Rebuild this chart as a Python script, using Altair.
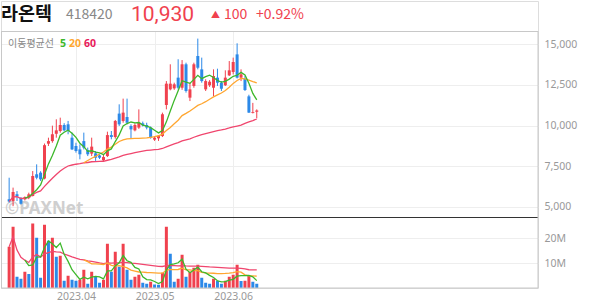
import altair as alt
import numpy as np
import pandas as pd

# ---------------- data ----------------
stock_name = "라온텍"
stock_code = "418420"
last_price = 10930
price_change = 100
change_pct = 0.92

opens = [5470, 5370, 5780, 5560, 5470, 5570, 5680, 7010, 7110, 6750,
         8890, 9050, 9500, 9670, 10040, 10080, 9260, 8750, 8540, 9050,
         8500, 8280, 8300, 8170, 7870, 8130, 9420, 9300, 10740, 10290,
         10530, 9980, 9710, 9880, 10140, 10040, 9880, 9140, 9220, 9360,
         11270, 12230, 12290, 12950, 12330, 13770, 11720, 12440, 14280, 13460,
         12230, 12480, 12330, 12950, 12640, 12480, 13090, 13300, 14380, 12950,
         12890, 11800, 10780, 10850]
highs = [6800, 6190, 5980, 5600, 5650, 5880, 7210, 7620, 7200, 8900,
         9260, 10000, 10390, 10490, 10150, 10290, 9570, 8950, 8850, 9570,
         8650, 9260, 8440, 8250, 8200, 9630, 9670, 10350, 11310, 11660,
         11660, 10080, 10150, 11000, 10250, 10180, 9950, 9360, 9420, 10800,
         12740, 13770, 12640, 14080, 14030, 13870, 12640, 13870, 15350, 14180,
         12850, 12800, 13460, 13500, 12740, 13400, 13970, 14180, 15060, 13460,
         13050, 11900, 11400, 11000]
lows = [5270, 5050, 5370, 5150, 5400, 5480, 5650, 6700, 6600, 6700,
        8750, 8950, 9260, 9570, 9650, 9470, 8500, 8340, 7930, 8540,
        8130, 8130, 7830, 7950, 7780, 8070, 9160, 9200, 9980, 10180,
        10080, 9220, 9650, 9800, 9950, 9770, 9200, 9060, 9060, 9300,
        11000, 12170, 12200, 12230, 12200, 12030, 11510, 12330, 13460, 12640,
        12130, 12380, 11820, 12440, 12130, 12440, 13050, 13150, 12900, 12740,
        12130, 10780, 10750, 10450]
closes = [5330, 5920, 5640, 5200, 5610, 5780, 6900, 6800, 6700, 8800,
          9050, 9470, 9710, 10040, 9710, 9670, 8540, 8440, 8240, 8650,
          8240, 8710, 8030, 8030, 8070, 9420, 9300, 10290, 10080, 10800,
          10180, 9770, 10040, 10180, 10020, 9880, 9260, 9260, 9360, 10700,
          12580, 12580, 12540, 12330, 13770, 12130, 12230, 13770, 13560, 12740,
          12740, 12700, 13050, 12640, 12270, 12950, 13400, 13910, 12950, 13150,
          12190, 10800, 10830, 10930]
volumes_m = [16.5, 24.5, 4.5, 3.7, 6.5, 5.6, 25.8, 20.1, 4.1, 25.3,
             18.9, 20.1, 12.5, 12.9, 2.9, 4.9, 3.3, 2.9, 3.3, 7.3,
             1.7, 6.5, 4.5, 2.1, 3.3, 17.7, 6.5, 14.5, 8.5, 17.7,
             7.3, 3.3, 4.5, 5.3, 2.1, 1.7, 2.5, 1.4, 1.3, 6.1,
             24.5, 13.7, 2.5, 3.7, 13.3, 4.5, 6.5, 8.1, 9.3, 4.1,
             2.1, 1.7, 3.7, 2.9, 1.7, 2.9, 4.5, 5.3, 9.3, 2.8,
             2.9, 4.9, 2.5, 1.7]

month_ticks = [17, 37, 57]
month_labels = ["2023.04", "2023.05", "2023.06"]
price_ticks = [5000, 7500, 10000, 12500, 15000]
volume_ticks = [10_000_000, 20_000_000]

# ---------------- styling ----------------
RED = "#f0414e"
BLUE = "#2c89e8"
C5 = "#3cb82a"
C20 = "#ffa630"
C60 = "#f0466e"
GRID = "#eeeeee"
BORDER = "#c8c8c8"
KFONT = "Noto Sans CJK KR"
W = 537
HEAD_H = 30
PRICE_H = 186
VOL_H = 71

df = pd.DataFrame({
    "i": np.arange(len(closes)),
    "open": opens, "high": highs, "low": lows, "close": closes,
    "vol": np.array(volumes_m) * 1e6,
})
df["dir"] = np.where(df["close"] >= df["open"], "up", "down")
prev = df["vol"].shift(1)
df["vdir"] = np.where(prev.isna() | (df["vol"] > prev), "up", "down")

one = alt.Data(values=[{}])

xscale = alt.Scale(domain=[-0.8, 133.28], nice=False, zero=False)
label_expr = "".join(f"datum.value == {t} ? '{l}' : " for t, l in zip(month_ticks, month_labels)) + "''"


def X(show_labels):
    return alt.X("i:Q", scale=xscale, title=None,
                 axis=alt.Axis(values=month_ticks, labels=show_labels, labelExpr=label_expr,
                               ticks=False, domain=False, grid=True, gridColor=GRID,
                               labelColor="#999999", labelFontSize=10.5, labelPadding=3,
                               labelFont="Noto Sans"))


pscale = alt.Scale(domain=[4385, 15817], nice=False, zero=False)
paxis = alt.Axis(orient="right", values=price_ticks, format=",d", ticks=False, domain=False,
                 grid=True, gridColor=GRID, labelColor="#999999", labelFontSize=10.5,
                 labelPadding=6, labelFont="Noto Sans")


def PY(field):
    return alt.Y(f"{field}:Q", scale=pscale, axis=paxis, title=None)


vscale = alt.Scale(domain=[0, 28.4e6], nice=False, zero=True)
vaxis = alt.Axis(orient="right", values=volume_ticks, labelExpr="datum.value / 1000000 + 'M'",
                 ticks=False, domain=False, grid=True, gridColor=GRID, labelColor="#999999",
                 labelFontSize=10.5, labelPadding=6, labelFont="Noto Sans")


def VY(field):
    return alt.Y(f"{field}:Q", scale=vscale, axis=vaxis, title=None)


cdir = alt.Color("dir:N", scale=alt.Scale(domain=["up", "down"], range=[RED, BLUE]), legend=None)
vdir = alt.Color("vdir:N", scale=alt.Scale(domain=["up", "down"], range=[RED, BLUE]), legend=None)


def text(s, x, y, size, color, weight="normal", font=KFONT):
    return alt.Chart(one).mark_text(text=s, fontSize=size, color=color, fontWeight=weight,
                                    align="left", baseline="alphabetic", font=font).encode(
        x=alt.value(x), y=alt.value(y))


def hrule(y, x1, x2, color):
    return alt.Chart(one).mark_rule(color=color, strokeWidth=1).encode(
        x=alt.value(x1), x2=alt.value(x2), y=alt.value(y))


def vrule(x, y1, y2, color):
    return alt.Chart(one).mark_rule(color=color, strokeWidth=1).encode(
        x=alt.value(x), y=alt.value(y1), y2=alt.value(y2))


def ma(field, n, color, yfun, ysrc):
    name = f"ma{n}_{field}"
    c = alt.Chart(df).transform_window(
        **{name: f"mean({ysrc})"}, frame=[-(n - 1), 0], sort=[alt.SortField("i")])
    if n < 60:
        c = c.transform_filter(f"datum.i >= {n - 1}")
    return c.mark_line(color=color, strokeWidth=1.3).encode(x=X(False), y=yfun(name))


# ---------------- header ----------------
header = alt.layer(
    text(stock_name, 0, 19, 18.5, "#111111", "bold"),
    text(stock_code, 65, 18, 14, "#888888"),
    text(f"{last_price:,}", 130, 19.5, 21, RED, "normal", "Roboto"),
    text("▲", 210, 16.5, 9, RED),
    text(str(price_change), 223, 18, 14, RED),
    text(f"+{change_pct:.2f}%", 255, 18, 14, RED),
).properties(width=W, height=HEAD_H)

# ---------------- price panel ----------------
base = alt.Chart(df)
wick = base.mark_rule(strokeWidth=1).encode(x=X(False), y=PY("low"), y2="high:Q", color=cdir)
body = base.mark_bar(size=3).encode(x=X(False), y=PY("open"), y2="close:Q", color=cdir)

price = alt.layer(
    text("©PAXNet", 4, 183, 17, "#cfcfcf", "bold", "Noto Sans"),
    wick, body,
    ma("close", 60, C60, PY, "close"),
    ma("close", 20, C20, PY, "close"),
    ma("close", 5, C5, PY, "close"),
    text("이동평균선", 7, 15.5, 10, "#888888"),
    text("5", 59, 15.5, 10.5, C5, "bold", "Noto Sans"),
    text("20", 68, 15.5, 10.5, C20, "bold", "Noto Sans"),
    text("60", 83, 15.5, 10.5, "#e8195a", "bold", "Noto Sans"),
    hrule(0.5, 0, W, BORDER),
    vrule(0.5, 0, PRICE_H, BORDER),
    vrule(W, 0, PRICE_H, BORDER),
).properties(width=W, height=PRICE_H)

# ---------------- volume panel ----------------
vbars = base.mark_bar(size=3).encode(x=X(True), y=VY("vol"), color=vdir)
volume = alt.layer(
    vbars,
    ma("vol", 60, C60, VY, "vol"),
    ma("vol", 20, C20, VY, "vol"),
    ma("vol", 5, C5, VY, "vol"),
    hrule(0.5, 0, W, "#333333"),
    hrule(VOL_H, 0, W, BORDER),
    vrule(0.5, 0, VOL_H, BORDER),
    vrule(W, 0, VOL_H, BORDER),
).properties(width=W, height=VOL_H)

chart = alt.vconcat(header, price, volume, spacing=0, bounds="flush").properties(
    padding=0
).configure_view(stroke=None).configure(background="white")

chart.save("out.html", embed_options={"renderer": "svg", "actions": False})
